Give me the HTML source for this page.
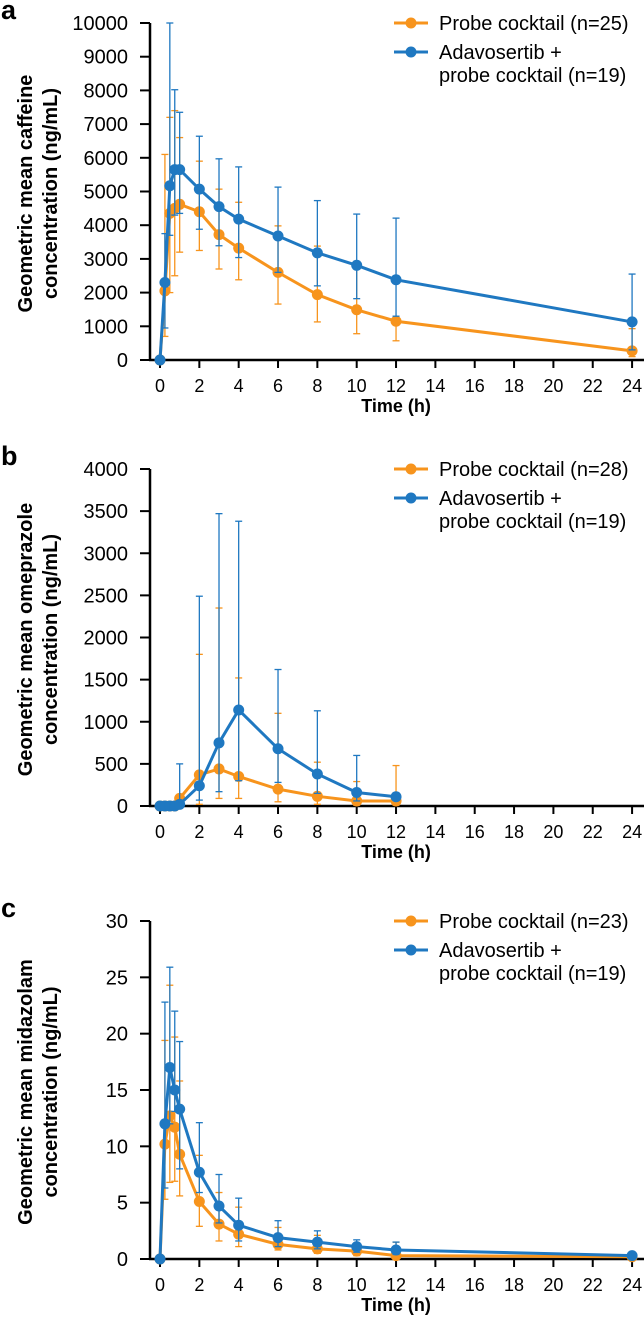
<!DOCTYPE html>
<html><head><meta charset="utf-8">
<style>
body{margin:0;background:#fff;}
svg{display:block;font-family:"Liberation Sans",Arial,sans-serif;}
</style></head>
<body>
<svg id="fig" width="644" height="1327" viewBox="0 0 644 1327" xmlns="http://www.w3.org/2000/svg"></svg>
<script>
// Panel a: caffeine
const timesA = [0,0.25,0.5,0.75,1,2,3,4,6,8,10,12,24];
const aOrange = [0,2050,4350,4500,4620,4400,3720,3320,2600,1940,1490,1150,270];
const aOrangeHi = [0,6100,7200,7400,6600,5900,5070,4680,3980,3380,2850,1200,930];
const aOrangeLo = [0,700,2000,2500,3200,3250,2700,2380,1660,1130,780,570,100];
const aBlue = [0,2300,5170,5650,5650,5070,4550,4180,3680,3180,2810,2380,1130];
const aBlueHi = [0,3750,10000,8020,7350,6640,5970,5730,5130,4730,4330,4210,2550];
const aBlueLo = [0,950,3700,4300,4350,3880,3390,3040,2600,2200,1820,1300,300];
const aTicks = [0,1000,2000,3000,4000,5000,6000,7000,8000,9000,10000];
// Panel b: omeprazole
const timesB = [0,0.25,0.5,0.75,1,2,3,4,6,8,10,12];
const bOrange = [0,0,0,0,90,370,440,350,200,115,60,60];
const bOrangeHi = [0,0,0,0,100,1800,2350,1520,1100,520,290,480];
const bOrangeLo = [0,0,0,0,80,20,90,90,50,20,10,10];
const bBlue = [0,0,0,0,20,240,750,1140,680,380,160,110];
const bBlueHi = [0,0,0,0,500,2490,3470,3380,1620,1130,600,120];
const bBlueLo = [0,0,0,0,5,70,170,300,280,150,60,100];
const bTicks = [0,500,1000,1500,2000,2500,3000,3500,4000];
// Panel c: midazolam
const timesC = [0,0.25,0.5,0.75,1,2,3,4,6,8,10,12,24];
const cOrange = [0,10.2,12.7,11.7,9.3,5.1,3.1,2.2,1.3,0.9,0.7,0.3,0.2];
const cOrangeHi = [0,19.4,24.3,19.7,15.8,9.2,5.9,4.6,2.8,2.1,1.4,1.5,0.3];
const cOrangeLo = [0,5.3,6.8,6.9,5.6,2.9,1.6,1.1,0.8,0.5,0.3,0.1,0.1];
const cBlue = [0,12,17,15,13.3,7.7,4.7,3.0,1.9,1.5,1.1,0.8,0.3];
const cBlueHi = [0,22.8,25.9,22,19.3,12.1,7.5,5.4,3.4,2.5,1.7,1.5,0.4];
const cBlueLo = [0,6.3,12,13.1,8,5.9,3.2,1.6,1.1,0.9,0.6,0.4,0.2];
const cTicks = [0,5,10,15,20,25,30];
const xTicks = [0,2,4,6,8,10,12,14,16,18,20,22,24];

const OR='#F7941D', BL='#1F78C1';
const svg=document.getElementById('fig');
const NS='http://www.w3.org/2000/svg';
function el(tag,attrs,parent,text){const e=document.createElementNS(NS,tag);for(const k in attrs)e.setAttribute(k,attrs[k]);if(text!==undefined)e.textContent=text;(parent||svg).appendChild(e);return e;}

function panel(cfg){
  const g=el('g',{});
  
  
  const x0=160, pxh=19.67, y0=cfg.y0, y1=cfg.y1, ymax=cfg.ticks[cfg.ticks.length-1];
  const X=t=>x0+t*pxh;
  const Y=v=>y0-(v/ymax)*(y0-y1);
  const L=el('text',{x:1,y:cfg.y1-4,'font-size':27,'font-weight':'bold'},g,cfg.letter);
  
  
  const ya=el('line',{x1:150,y1:y1,x2:150,y2:y0+1,stroke:'#000','stroke-width':2.5},g);
  
  
  const xa=el('line',{x1:149,y1:y0,x2:644,y2:y0,stroke:'#000','stroke-width':2.5},g);
  
  
  cfg.ticks.forEach(v=>{
    el('line',{x1:140,y1:Y(v),x2:150,y2:Y(v),stroke:'#000','stroke-width':2},g);
    const t=el('text',{x:128,y:Y(v)+7,'font-size':20,'text-anchor':'end'},g,v);
    
    
  });
  xTicks.forEach(v=>{
    el('line',{x1:X(v),y1:y0,x2:X(v),y2:y0+8,stroke:'#000','stroke-width':2},g);
    const t=el('text',{x:X(v),y:y0+32,'font-size':18,'text-anchor':'middle'},g,v);
    
    
  });
  const xt=el('text',{x:X(12),y:y0+52,'font-size':18,'font-weight':'bold','text-anchor':'middle'},g,'Time (h)');
  
  
  const cy=(y0+y1)/2+2;
  const yt=el('text',{transform:`translate(32,${cy}) rotate(-90)`,'font-size':20,'font-weight':'bold','text-anchor':'middle'},g);
  
  
  el('tspan',{x:0,y:0},yt,cfg.title1);
  el('tspan',{x:0,y:25},yt,cfg.title2);
  cfg.series.forEach(s=>{
    const sg=el('g',{},g);
    
    
    s.t.forEach((t,i)=>{
      const x=X(t);
      el('line',{x1:x,y1:Y(s.hi[i]),x2:x,y2:Y(s.lo[i]),stroke:s.c,'stroke-width':1.3},sg);
      el('line',{x1:x-3.5,y1:Y(s.hi[i]),x2:x+3.5,y2:Y(s.hi[i]),stroke:s.c,'stroke-width':1.3},sg);
      el('line',{x1:x-3.5,y1:Y(s.lo[i]),x2:x+3.5,y2:Y(s.lo[i]),stroke:s.c,'stroke-width':1.3},sg);
    });
    el('polyline',{points:s.t.map((t,i)=>X(t)+','+Y(s.v[i])).join(' '),fill:'none',stroke:s.c,'stroke-width':3},sg);
    s.t.forEach((t,i)=>{
      const p=el('circle',{cx:X(t),cy:Y(s.v[i]),r:5.5,fill:s.c},sg);
      
      
    });
  });
  const lg=el('g',{},g);
  
  
  const ly=cfg.y1;
  el('line',{x1:394,y1:ly,x2:428,y2:ly,stroke:OR,'stroke-width':3},lg);
  el('circle',{cx:411,cy:ly,r:5.5,fill:OR},lg);
  el('text',{x:439,y:ly+7,'font-size':20},lg,cfg.n1);
  el('line',{x1:394,y1:ly+29,x2:428,y2:ly+29,stroke:BL,'stroke-width':3},lg);
  el('circle',{cx:411,cy:ly+29,r:5.5,fill:BL},lg);
  el('text',{x:439,y:ly+36,'font-size':20},lg,'Adavosertib +');
  el('text',{x:439,y:ly+59,'font-size':20},lg,cfg.n2);
}

panel({name:'panel-a-caffeine',letter:'a',y0:360,y1:23,ticks:aTicks,title1:'Geometric mean caffeine',title2:'concentration (ng/mL)',
  n1:'Probe cocktail (n=25)',n2:'probe cocktail (n=19)',
  series:[{name:'series-probe-cocktail',t:timesA,v:aOrange,hi:aOrangeHi,lo:aOrangeLo,c:OR},
          {name:'series-adavosertib',t:timesA,v:aBlue,hi:aBlueHi,lo:aBlueLo,c:BL}]});
panel({name:'panel-b-omeprazole',letter:'b',y0:806,y1:469,ticks:bTicks,title1:'Geometric mean omeprazole',title2:'concentration (ng/mL)',
  n1:'Probe cocktail (n=28)',n2:'probe cocktail (n=19)',
  series:[{name:'series-probe-cocktail',t:timesB,v:bOrange,hi:bOrangeHi,lo:bOrangeLo,c:OR},
          {name:'series-adavosertib',t:timesB,v:bBlue,hi:bBlueHi,lo:bBlueLo,c:BL}]});
panel({name:'panel-c-midazolam',letter:'c',y0:1259,y1:921,ticks:cTicks,title1:'Geometric mean midazolam',title2:'concentration (ng/mL)',
  n1:'Probe cocktail (n=23)',n2:'probe cocktail (n=19)',
  series:[{name:'series-probe-cocktail',t:timesC,v:cOrange,hi:cOrangeHi,lo:cOrangeLo,c:OR},
          {name:'series-adavosertib',t:timesC,v:cBlue,hi:cBlueHi,lo:cBlueLo,c:BL}]});
</script>
</body></html>
